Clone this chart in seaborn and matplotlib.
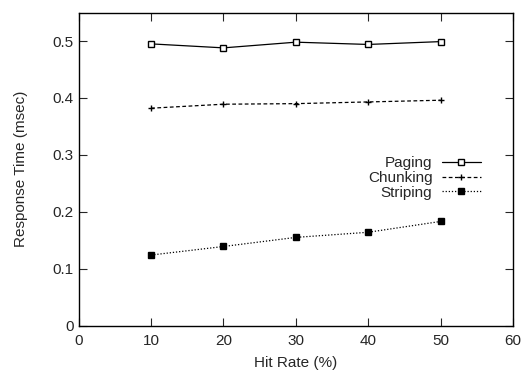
import matplotlib
matplotlib.use("Agg")
import pandas as pd
import seaborn as sns
from matplotlib import pyplot as plt

hit_rate = [10, 20, 30, 40, 50]
paging = [0.495, 0.488, 0.498, 0.494, 0.499]
chunking = [0.382, 0.389, 0.390, 0.393, 0.396]
striping = [0.124, 0.139, 0.155, 0.164, 0.183]

series_names = ['Paging', 'Chunking', 'Striping']


def plot_response_time():
    sns.set_style("ticks")
    plt.rcParams['font.family'] = ['Liberation Sans', 'DejaVu Sans']

    fig, ax = plt.subplots(figsize=(5.25, 3.7), dpi=100)
    styles = {
        'Paging': dict(linestyle='-', marker='s', markerfacecolor='white', markersize=5),
        'Chunking': dict(linestyle=(0, (3, 2)), marker='+', markersize=5),
        'Striping': dict(linestyle=(0, (1, 1.5)), marker='s', markerfacecolor='black', markersize=5),
    }
    for name, vals in zip(series_names, [paging, chunking, striping]):
        df = pd.DataFrame({'Hit Rate (%)': hit_rate, 'Response Time (msec)': vals})
        sns.lineplot(data=df, x='Hit Rate (%)', y='Response Time (msec)', color='black',
                     linewidth=0.9, markeredgecolor='black', markeredgewidth=1.0,
                     label=name, ax=ax, **styles[name])

    ax.set_xlim(0, 60)
    ax.set_ylim(0, 0.55)
    ax.set_xticks([0, 10, 20, 30, 40, 50, 60])
    ax.set_yticks([0, 0.1, 0.2, 0.3, 0.4, 0.5])
    ax.set_yticklabels(['0', '0.1', '0.2', '0.3', '0.4', '0.5'])
    ax.tick_params(direction='in', top=True, right=True, labelsize=11, length=6, width=0.8)
    ax.tick_params(axis='x', pad=6)
    for s in ax.spines.values():
        s.set_linewidth(1.0)
        s.set_color('black')
    ax.set_xlabel('Hit Rate (%)', fontsize=11, labelpad=6)
    ax.set_ylabel('Response Time (msec)', fontsize=11, labelpad=18)

    ax.legend(frameon=False, markerfirst=False, fontsize=11,
              loc='center left', bbox_to_anchor=(0.634, 0.472),
              handlelength=2.6, handletextpad=0.6, labelspacing=0.05)

    plt.subplots_adjust(left=0.15, right=0.977, top=0.966, bottom=0.12)
    plt.savefig('out.png', dpi=100)


if __name__ == '__main__':
    plot_response_time()
